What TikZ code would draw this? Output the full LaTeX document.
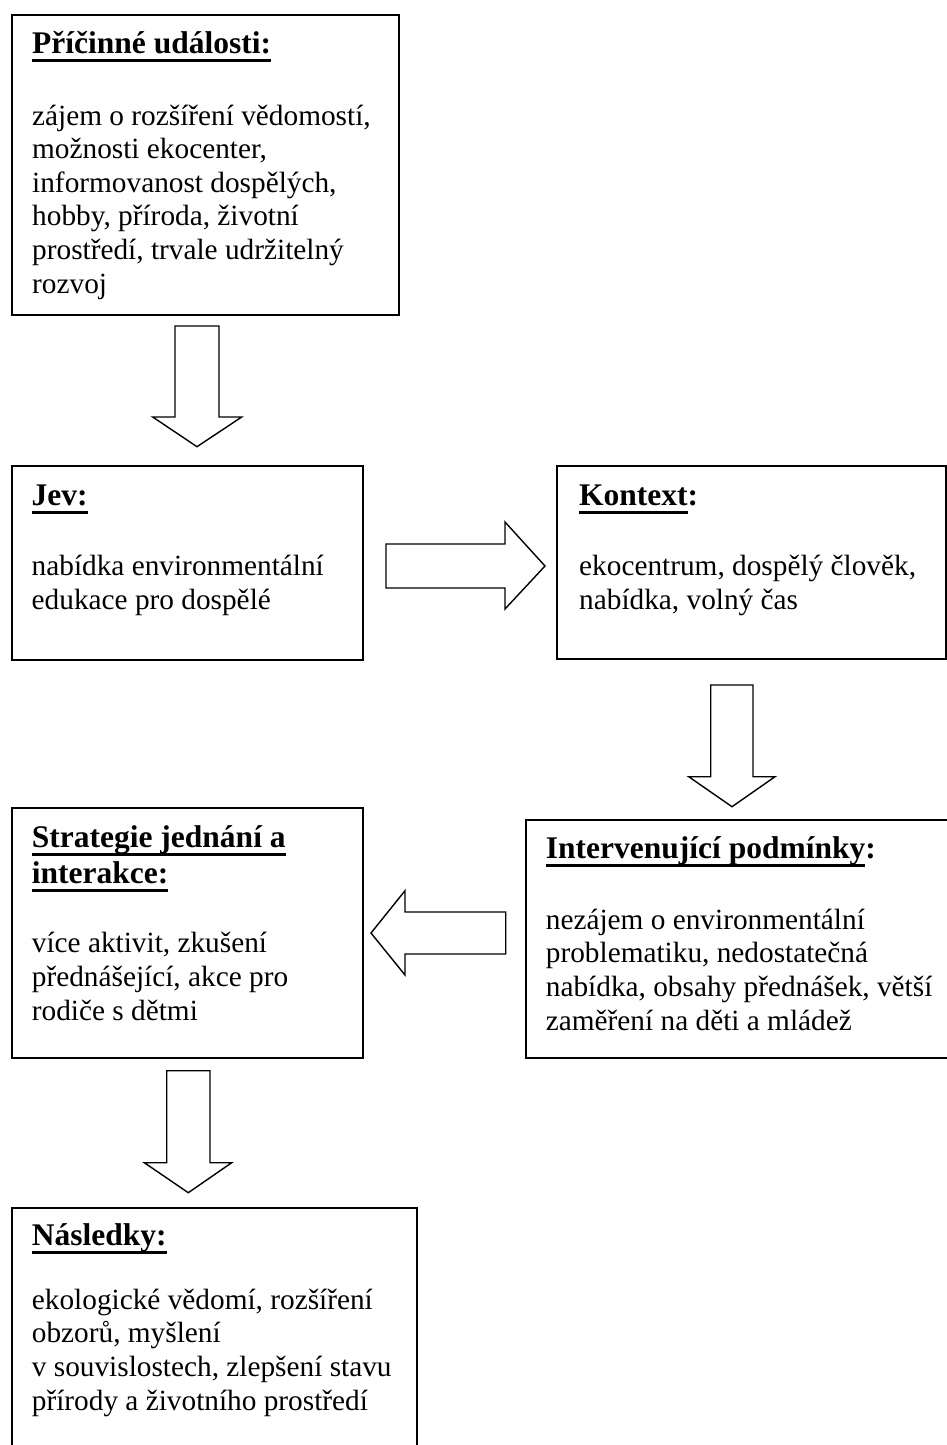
\documentclass[tikz,border=0pt]{standalone}
\usepackage{fontspec}
\setmainfont{Liberation Serif}
\newcommand\ulin[1]{\setbox0\hbox{#1}\rlap{\rule[-8.6pt]{\wd0}{3pt}}\box0}
\tikzset{
  boxnode/.style={draw, line width=2pt, rectangle, inner sep=0pt, anchor=north west},
  titletext/.style={anchor=base west, inner sep=0pt, align=left, font=\fontsize{31.5}{36}\selectfont\bfseries},
  bodytext/.style={anchor=base west, inner sep=0pt, align=left, font=\fontsize{29.3}{33.6}\selectfont},
  blockarrow/.style={draw, line width=1.4pt, line join=miter, fill=white}
}
\begin{document}
\begin{tikzpicture}[x=1pt,y=-1pt]
\useasboundingbox (0,0) rectangle (947,1445);
% boxes
\node[boxnode, minimum width=387.5pt, minimum height=300pt] (b1) at (10.5,14) {};
\node[boxnode, minimum width=351pt, minimum height=194pt] (jev) at (11,465) {};
\node[boxnode, minimum width=389pt, minimum height=193pt] (kon) at (556,465) {};
\node[boxnode, minimum width=430pt, minimum height=238pt] (int) at (525,819) {};
\node[boxnode, minimum width=351pt, minimum height=250pt] (str) at (11,807) {};
\node[boxnode, minimum width=405pt, minimum height=260pt] (nas) at (11,1207) {};
% titles (anchor = baseline of last line)
\node[titletext] (t1) at (32,53.3) {\ulin{Příčinné události:}};
\node[titletext] (t2) at (31.5,505) {\ulin{Jev:}};
\node[titletext] (t3) at (579,505) {\ulin{Kontext}:};
\node[titletext] (t4) at (545.7,858) {\ulin{Intervenující podmínky}:};
\node[titletext] (t5) at (31.7,883) {\ulin{Strategie jednání a}\\\ulin{interakce:}};
\node[titletext] (t6) at (31.7,1245) {\ulin{Následky:}};
% bodies (anchor = baseline of last line)
\node[bodytext] (x1) at (32,293) {zájem o rozšíření vědomostí,\\možnosti ekocenter,\\informovanost dospělých,\\hobby, příroda, životní\\prostředí, trvale udržitelný\\rozvoj};
\node[bodytext] (x2) at (31.5,609) {nabídka environmentální\\edukace pro dospělé};
\node[bodytext] (x3) at (579,609) {ekocentrum, dospělý člověk,\\nabídka, volný čas};
\node[bodytext] (x4) at (545.7,1030) {nezájem o environmentální\\problematiku, nedostatečná\\nabídka, obsahy přednášek, větší\\zaměření na děti a mládež};
\node[bodytext] (x5) at (31.7,1020) {více aktivit, zkušení\\přednášející, akce pro\\rodiče s dětmi};
\node[bodytext] (x6) at (31.7,1410) {ekologické vědomí, rozšíření\\obzorů, myšlení\\v souvislostech, zlepšení stavu\\přírody a životního prostředí};
% block arrows
\draw[blockarrow] (175,326) -- (219,326) -- (219,417) -- (241.7,417) -- (197,446.7) -- (152.7,417) -- (175,417) -- cycle;
\draw[blockarrow] (386,544) -- (505,544) -- (505,522) -- (545,566) -- (505,609) -- (505,588) -- (386,588) -- cycle;
\draw[blockarrow] (710.7,685) -- (753,685) -- (753,776.7) -- (775,776.7) -- (732,806.7) -- (688.7,776.7) -- (710.7,776.7) -- cycle;
\draw[blockarrow] (505.7,912) -- (405,912) -- (405,890.7) -- (371,933) -- (405,975) -- (405,954) -- (505.7,954) -- cycle;
\draw[blockarrow] (166.7,1070.7) -- (210,1070.7) -- (210,1162.7) -- (231.7,1162.7) -- (188.3,1192.7) -- (144.3,1162.7) -- (166.7,1162.7) -- cycle;
\end{tikzpicture}
\end{document}
